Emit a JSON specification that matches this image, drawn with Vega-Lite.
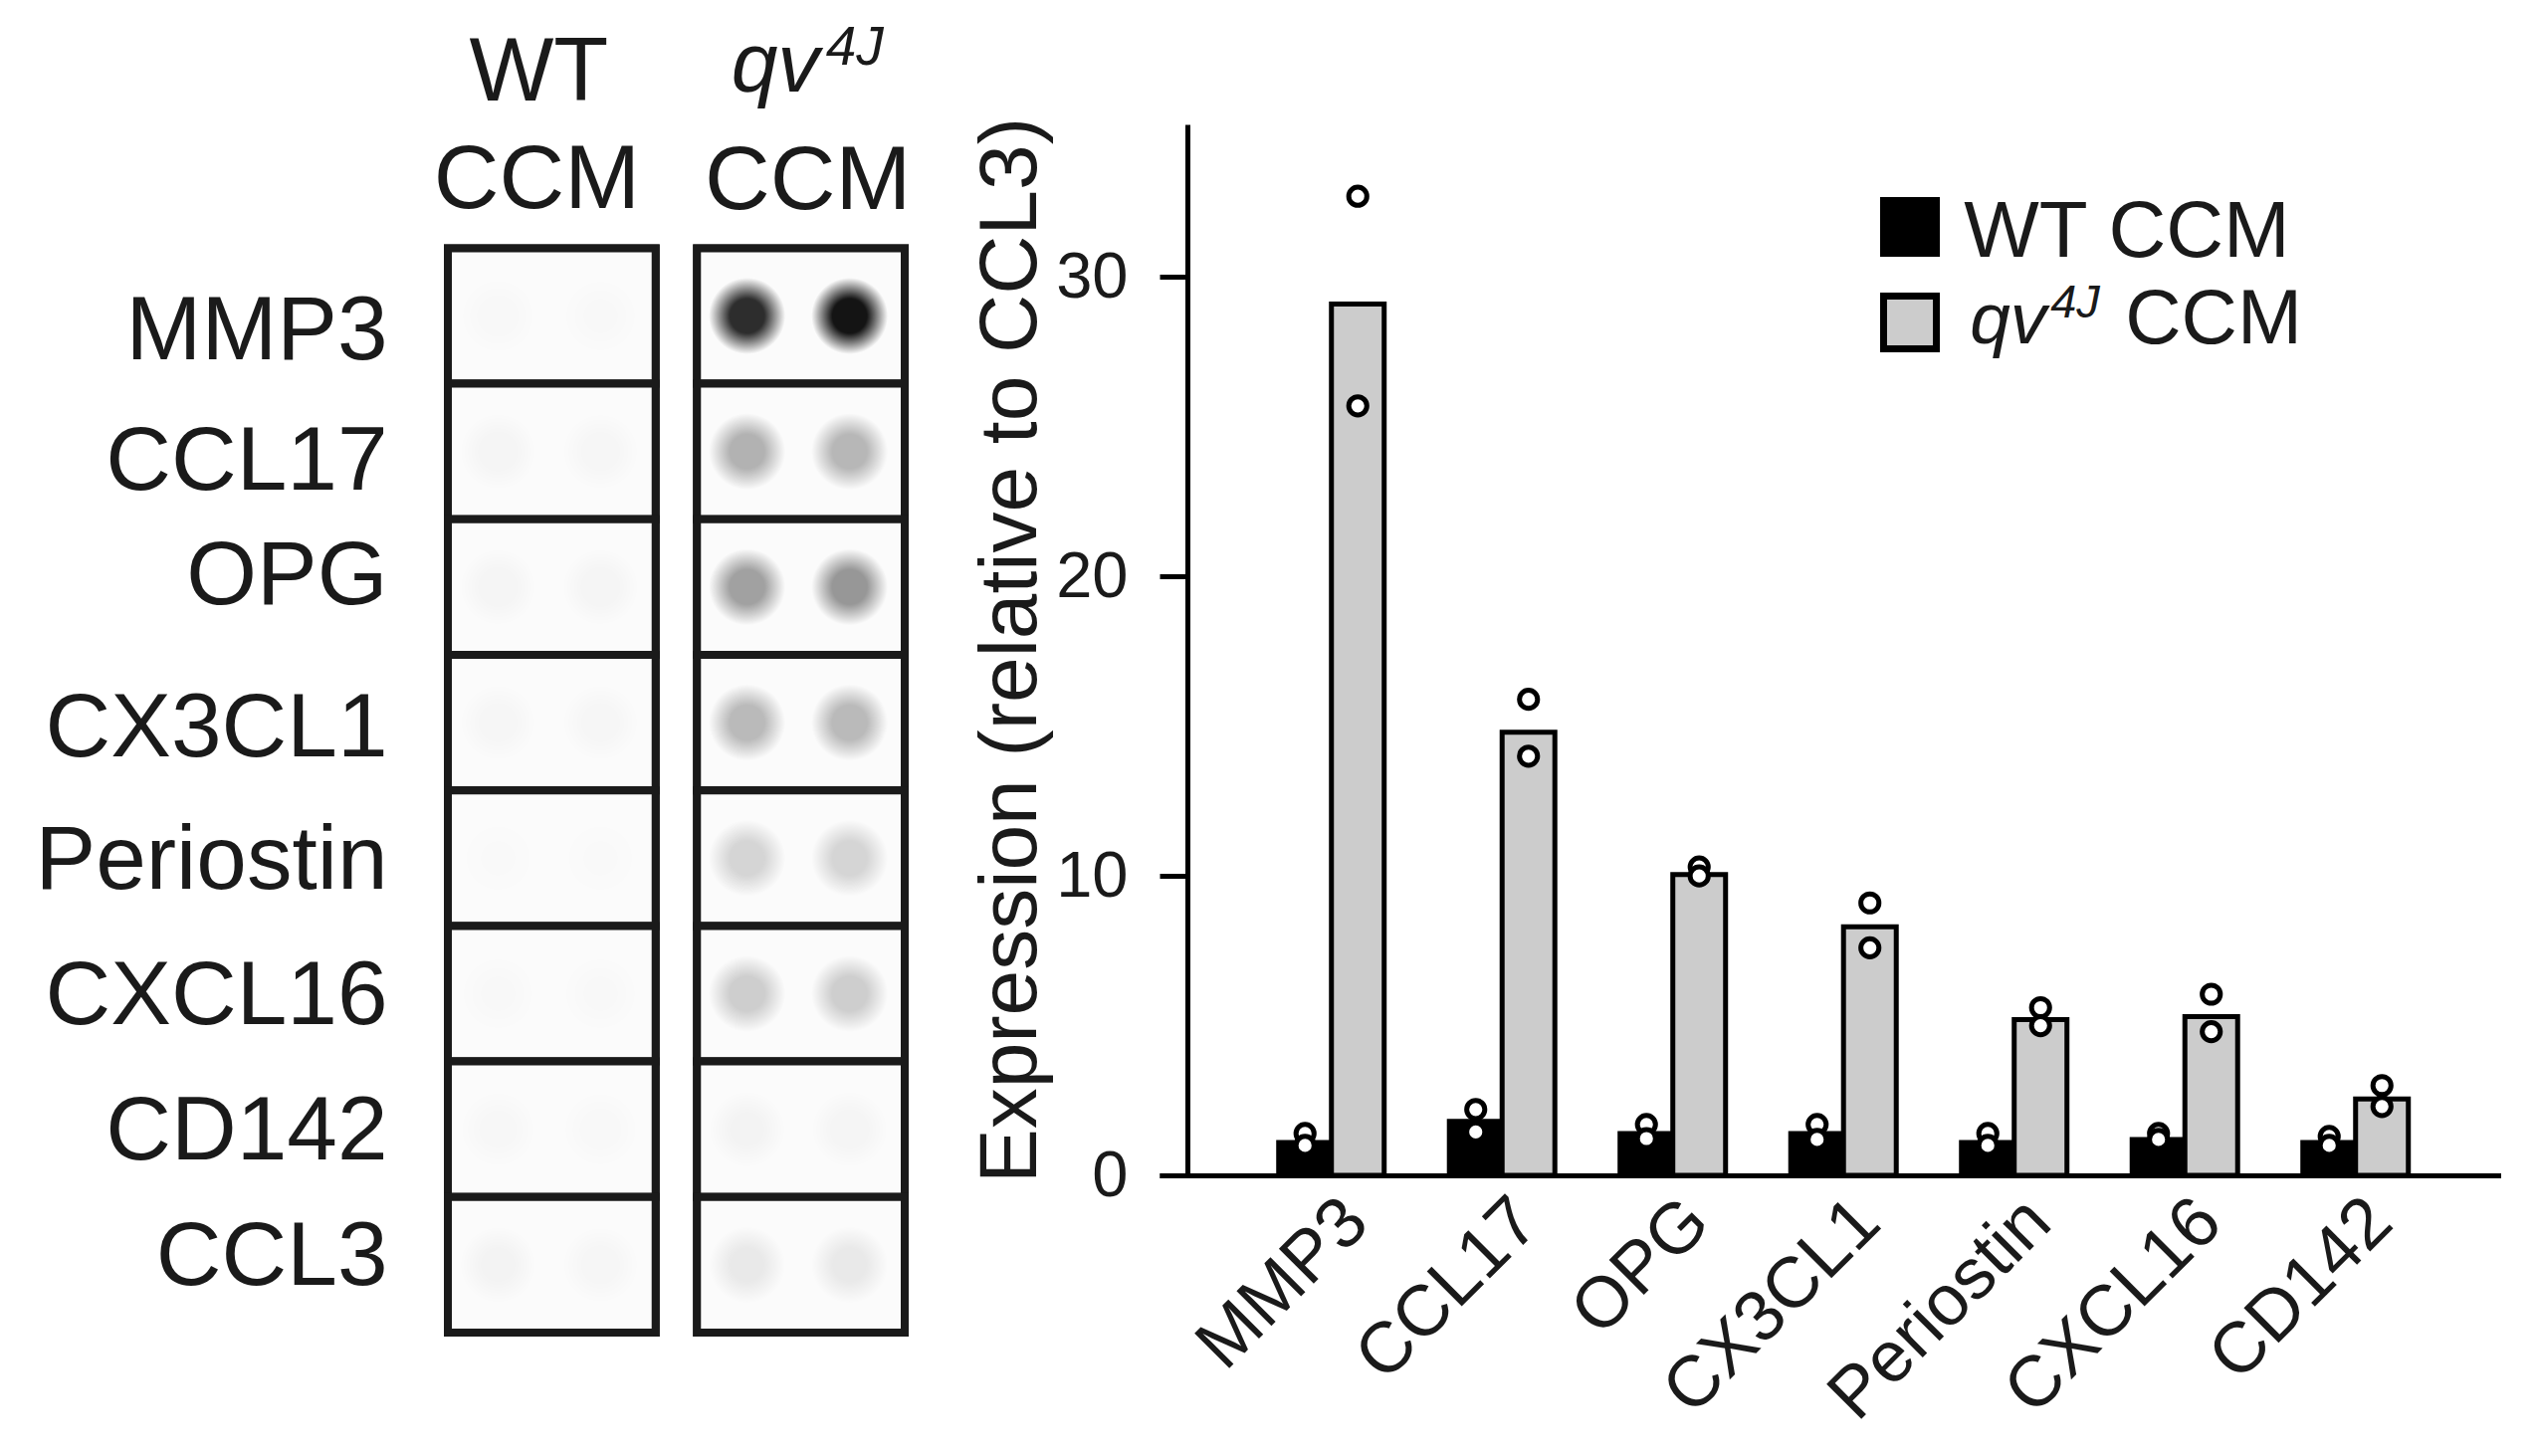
{
  "$schema": "https://vega.github.io/schema/vega-lite/v6.json",
  "description": "Dot blot and relative expression, WT CCM vs qv4J CCM",
  "background": "white",
  "padding": {"left": 34, "top": 21, "right": 0, "bottom": 0},
  "spacing": 58,
  "config": {
    "view": {"stroke": null},
    "font": "Liberation Sans",
    "text": {"font": "Liberation Sans", "color": "#1a1a1a"}
  },
  "datasets": {
    "bars": [
      {"gene": "MMP3", "sample": "WT CCM", "value": 1.1},
      {"gene": "MMP3", "sample": "qv4J CCM", "value": 29.1},
      {"gene": "CCL17", "sample": "WT CCM", "value": 1.8},
      {"gene": "CCL17", "sample": "qv4J CCM", "value": 14.8},
      {"gene": "OPG", "sample": "WT CCM", "value": 1.4},
      {"gene": "OPG", "sample": "qv4J CCM", "value": 10.05},
      {"gene": "CX3CL1", "sample": "WT CCM", "value": 1.4},
      {"gene": "CX3CL1", "sample": "qv4J CCM", "value": 8.3},
      {"gene": "Periostin", "sample": "WT CCM", "value": 1.1},
      {"gene": "Periostin", "sample": "qv4J CCM", "value": 5.2},
      {"gene": "CXCL16", "sample": "WT CCM", "value": 1.2},
      {"gene": "CXCL16", "sample": "qv4J CCM", "value": 5.3},
      {"gene": "CD142", "sample": "WT CCM", "value": 1.1},
      {"gene": "CD142", "sample": "qv4J CCM", "value": 2.55}
    ],
    "replicates": [
      {"gene": "MMP3", "sample": "WT CCM", "value": 1.4},
      {"gene": "MMP3", "sample": "WT CCM", "value": 1.0},
      {"gene": "MMP3", "sample": "qv4J CCM", "value": 32.7},
      {"gene": "MMP3", "sample": "qv4J CCM", "value": 25.7},
      {"gene": "CCL17", "sample": "WT CCM", "value": 2.2},
      {"gene": "CCL17", "sample": "WT CCM", "value": 1.45},
      {"gene": "CCL17", "sample": "qv4J CCM", "value": 15.9},
      {"gene": "CCL17", "sample": "qv4J CCM", "value": 14.0},
      {"gene": "OPG", "sample": "WT CCM", "value": 1.7},
      {"gene": "OPG", "sample": "WT CCM", "value": 1.23},
      {"gene": "OPG", "sample": "qv4J CCM", "value": 10.3},
      {"gene": "OPG", "sample": "qv4J CCM", "value": 10.0},
      {"gene": "CX3CL1", "sample": "WT CCM", "value": 1.7},
      {"gene": "CX3CL1", "sample": "WT CCM", "value": 1.2},
      {"gene": "CX3CL1", "sample": "qv4J CCM", "value": 9.1},
      {"gene": "CX3CL1", "sample": "qv4J CCM", "value": 7.6},
      {"gene": "Periostin", "sample": "WT CCM", "value": 1.4},
      {"gene": "Periostin", "sample": "WT CCM", "value": 1.0},
      {"gene": "Periostin", "sample": "qv4J CCM", "value": 5.6},
      {"gene": "Periostin", "sample": "qv4J CCM", "value": 5.0},
      {"gene": "CXCL16", "sample": "WT CCM", "value": 1.4},
      {"gene": "CXCL16", "sample": "WT CCM", "value": 1.2},
      {"gene": "CXCL16", "sample": "qv4J CCM", "value": 6.05},
      {"gene": "CXCL16", "sample": "qv4J CCM", "value": 4.8},
      {"gene": "CD142", "sample": "WT CCM", "value": 1.3},
      {"gene": "CD142", "sample": "WT CCM", "value": 1.0},
      {"gene": "CD142", "sample": "qv4J CCM", "value": 3.0},
      {"gene": "CD142", "sample": "qv4J CCM", "value": 2.3}
    ],
    "spots": [
      {"gene": "MMP3", "sample": "WT CCM", "rep": "a", "signal": 0.012},
      {"gene": "MMP3", "sample": "WT CCM", "rep": "b", "signal": 0.01},
      {"gene": "MMP3", "sample": "qv4J CCM", "rep": "a", "signal": 0.82},
      {"gene": "MMP3", "sample": "qv4J CCM", "rep": "b", "signal": 0.92},
      {"gene": "CCL17", "sample": "WT CCM", "rep": "a", "signal": 0.025},
      {"gene": "CCL17", "sample": "WT CCM", "rep": "b", "signal": 0.02},
      {"gene": "CCL17", "sample": "qv4J CCM", "rep": "a", "signal": 0.29},
      {"gene": "CCL17", "sample": "qv4J CCM", "rep": "b", "signal": 0.27},
      {"gene": "OPG", "sample": "WT CCM", "rep": "a", "signal": 0.025},
      {"gene": "OPG", "sample": "WT CCM", "rep": "b", "signal": 0.025},
      {"gene": "OPG", "sample": "qv4J CCM", "rep": "a", "signal": 0.36},
      {"gene": "OPG", "sample": "qv4J CCM", "rep": "b", "signal": 0.4},
      {"gene": "CX3CL1", "sample": "WT CCM", "rep": "a", "signal": 0.02},
      {"gene": "CX3CL1", "sample": "WT CCM", "rep": "b", "signal": 0.02},
      {"gene": "CX3CL1", "sample": "qv4J CCM", "rep": "a", "signal": 0.26},
      {"gene": "CX3CL1", "sample": "qv4J CCM", "rep": "b", "signal": 0.26},
      {"gene": "Periostin", "sample": "WT CCM", "rep": "a", "signal": 0.006},
      {"gene": "Periostin", "sample": "WT CCM", "rep": "b", "signal": 0.006},
      {"gene": "Periostin", "sample": "qv4J CCM", "rep": "a", "signal": 0.15},
      {"gene": "Periostin", "sample": "qv4J CCM", "rep": "b", "signal": 0.15},
      {"gene": "CXCL16", "sample": "WT CCM", "rep": "a", "signal": 0.01},
      {"gene": "CXCL16", "sample": "WT CCM", "rep": "b", "signal": 0.01},
      {"gene": "CXCL16", "sample": "qv4J CCM", "rep": "a", "signal": 0.18},
      {"gene": "CXCL16", "sample": "qv4J CCM", "rep": "b", "signal": 0.18},
      {"gene": "CD142", "sample": "WT CCM", "rep": "a", "signal": 0.015},
      {"gene": "CD142", "sample": "WT CCM", "rep": "b", "signal": 0.012},
      {"gene": "CD142", "sample": "qv4J CCM", "rep": "a", "signal": 0.03},
      {"gene": "CD142", "sample": "qv4J CCM", "rep": "b", "signal": 0.025},
      {"gene": "CCL3", "sample": "WT CCM", "rep": "a", "signal": 0.03},
      {"gene": "CCL3", "sample": "WT CCM", "rep": "b", "signal": 0.02},
      {"gene": "CCL3", "sample": "qv4J CCM", "rep": "a", "signal": 0.07},
      {"gene": "CCL3", "sample": "qv4J CCM", "rep": "b", "signal": 0.07}
    ]
  },
  "hconcat": [
    {
      "width": 459,
      "height": 1214,
      "encoding": {
        "x": {
          "field": "sample",
          "type": "nominal",
          "axis": null,
          "scale": {"type": "band", "domain": ["WT CCM", "qv4J CCM"], "paddingInner": 0.166, "paddingOuter": 0}
        },
        "y": {
          "field": "gene",
          "type": "nominal",
          "title": null,
          "scale": {
            "type": "band",
            "domain": ["MMP3", "CCL17", "OPG", "CX3CL1", "Periostin", "CXCL16", "CD142", "CCL3"],
            "paddingInner": 0,
            "paddingOuter": 0.4566,
            "align": 1
          },
          "axis": {
            "domain": false,
            "ticks": false,
            "labelFont": "Liberation Sans",
            "labelFontSize": 91,
            "labelColor": "#1a1a1a",
            "labelPadding": 61,
            "labelLimit": 500,
            "labelOffset": {"expr": "datum.label == 'MMP3' ? 17 : datum.label == 'CCL17' ? 11 : datum.label == 'OPG' ? -10 : datum.label == 'CX3CL1' ? 7 : datum.label == 'CCL3' ? -7 : datum.label == 'CD142' ? 3 : 4"}
          }
        }
      },
      "layer": [
        {
          "data": {"name": "spots"},
          "mark": {"type": "rect", "fill": "#fbfbfb", "stroke": "#1a1a1a", "strokeWidth": 8}
        },
        {
          "data": {"name": "spots"},
          "transform": [{"filter": "datum.rep == 'a'"}],
          "mark": {
            "type": "point",
            "filled": true,
            "size": 6000,
            "xOffset": -54,
            "fill": {
              "gradient": "radial",
              "x1": 0.5, "y1": 0.5, "r1": 0,
              "x2": 0.5, "y2": 0.5, "r2": 0.5,
              "stops": [
                {"offset": 0, "color": "#000000"},
                {"offset": 0.45, "color": "#000000"},
                {"offset": 1, "color": "#ffffff"}
              ]
            }
          },
          "encoding": {
            "opacity": {"field": "signal", "type": "quantitative", "legend": null, "scale": {"domain": [0, 1], "range": [0, 1]}}
          }
        },
        {
          "data": {"name": "spots"},
          "transform": [{"filter": "datum.rep == 'b'"}],
          "mark": {
            "type": "point",
            "filled": true,
            "size": 6000,
            "xOffset": 49,
            "fill": {
              "gradient": "radial",
              "x1": 0.5, "y1": 0.5, "r1": 0,
              "x2": 0.5, "y2": 0.5, "r2": 0.5,
              "stops": [
                {"offset": 0, "color": "#000000"},
                {"offset": 0.45, "color": "#000000"},
                {"offset": 1, "color": "#ffffff"}
              ]
            }
          },
          "encoding": {
            "opacity": {"field": "signal", "type": "quantitative", "legend": null, "scale": {"domain": [0, 1], "range": [0, 1]}}
          }
        },
        {
          "data": {"values": [{"sample": "WT CCM", "text": "WT"}]},
          "mark": {"type": "text", "fontSize": 90, "align": "center", "baseline": "alphabetic", "dx": -13, "dy": -216},
          "encoding": {"y": {"datum": "MMP3", "type": "nominal"}, "text": {"field": "text"}}
        },
        {
          "data": {"values": [{"sample": "WT CCM", "text": "CCM"}]},
          "mark": {"type": "text", "fontSize": 91, "align": "center", "baseline": "alphabetic", "dx": -15, "dy": -108},
          "encoding": {"y": {"datum": "MMP3", "type": "nominal"}, "text": {"field": "text"}}
        },
        {
          "data": {"values": [{"sample": "qv4J CCM", "text": "qv"}]},
          "mark": {"type": "text", "fontSize": 84, "fontStyle": "italic", "align": "left", "baseline": "alphabetic", "dx": -70, "dy": -225},
          "encoding": {"y": {"datum": "MMP3", "type": "nominal"}, "text": {"field": "text"}}
        },
        {
          "data": {"values": [{"sample": "qv4J CCM", "text": "4J"}]},
          "mark": {"type": "text", "fontSize": 55, "fontStyle": "italic", "align": "left", "baseline": "alphabetic", "dx": 25, "dy": -252},
          "encoding": {"y": {"datum": "MMP3", "type": "nominal"}, "text": {"field": "text"}}
        },
        {
          "data": {"values": [{"sample": "qv4J CCM", "text": "CCM"}]},
          "mark": {"type": "text", "fontSize": 91, "align": "center", "baseline": "alphabetic", "dx": 7, "dy": -107},
          "encoding": {"y": {"datum": "MMP3", "type": "nominal"}, "text": {"field": "text"}}
        }
      ]
    },
    {
      "width": 1348,
      "height": 1056,
      "encoding": {
        "x": {
          "field": "gene",
          "type": "nominal",
          "title": null,
          "scale": {
            "type": "band",
            "domain": ["MMP3", "CCL17", "OPG", "CX3CL1", "Periostin", "CXCL16", "CD142"],
            "paddingInner": 0.384,
            "paddingOuter": 0.622,
            "align": 0.562
          },
          "axis": {
            "domainWidth": 5,
            "domainColor": "#000000",
            "ticks": false,
            "labelAngle": -45,
            "labelFont": "Liberation Sans",
            "labelFontSize": 72,
            "labelColor": "#1a1a1a",
            "labelPadding": 10,
            "labelLimit": 500,
            "labelOffset": 0
          }
        },
        "y": {
          "field": "value",
          "type": "quantitative",
          "title": "Expression (relative to CCL3)",
          "scale": {"domain": [0, 35.1], "nice": false},
          "axis": {
            "values": [0, 10, 20, 30],
            "grid": false,
            "offset": -28,
            "domainWidth": 5,
            "domainColor": "#000000",
            "tickSize": 28,
            "tickWidth": 5,
            "tickColor": "#000000",
            "labelFont": "Liberation Sans",
            "labelFontSize": 65,
            "labelColor": "#1a1a1a",
            "labelPadding": 32,
            "titleFont": "Liberation Sans",
            "titleFontSize": 82,
            "titleFontWeight": "normal",
            "titleColor": "#1a1a1a",
            "titlePadding": 3
          }
        }
      },
      "layer": [
        {
          "data": {"name": "bars"},
          "transform": [{"filter": "datum.sample == 'WT CCM'"}],
          "mark": {"type": "bar", "width": 53, "xOffset": -26.5, "stroke": "#000000", "strokeWidth": 5},
          "encoding": {
            "fill": {
              "field": "sample",
              "type": "nominal",
              "scale": {"domain": ["WT CCM", "qv4J CCM"], "range": ["#000000", "#cccccc"]},
              "legend": {
                "title": null,
                "orient": "none",
                "legendX": 1439,
                "legendY": 73,
                "symbolType": "square",
                "symbolSize": 2809,
                "symbolStrokeColor": "#1a1a1a",
                "symbolStrokeWidth": 7,
                "labelFontSize": 10,
                "rowPadding": 14,
                "labelExpr": "''"
              }
            }
          }
        },
        {
          "data": {"name": "bars"},
          "transform": [{"filter": "datum.sample == 'qv4J CCM'"}],
          "mark": {"type": "bar", "width": 53, "xOffset": 26.5, "stroke": "#000000", "strokeWidth": 5},
          "encoding": {
            "fill": {
              "field": "sample",
              "type": "nominal",
              "scale": {"domain": ["WT CCM", "qv4J CCM"], "range": ["#000000", "#cccccc"]}
            }
          }
        },
        {
          "data": {"name": "replicates"},
          "transform": [{"filter": "datum.sample == 'WT CCM'"}],
          "mark": {"type": "point", "filled": true, "fill": "#ffffff", "stroke": "#000000", "strokeWidth": 5, "size": 330, "opacity": 1, "xOffset": -26.5}
        },
        {
          "data": {"name": "replicates"},
          "transform": [{"filter": "datum.sample == 'qv4J CCM'"}],
          "mark": {"type": "point", "filled": true, "fill": "#ffffff", "stroke": "#000000", "strokeWidth": 5, "size": 330, "opacity": 1, "xOffset": 26.5}
        },
        {
          "data": {"values": [{"text": "WT CCM", "gene": "CXCL16", "value": 30}]},
          "mark": {"type": "text", "fontSize": 80, "align": "left", "baseline": "alphabetic", "dx": -222, "dy": -20},
          "encoding": {"text": {"field": "text"}}
        },
        {
          "data": {"values": [{"text": "qv", "gene": "CXCL16", "value": 30}]},
          "mark": {"type": "text", "fontSize": 73, "fontStyle": "italic", "align": "left", "baseline": "alphabetic", "dx": -216, "dy": 67},
          "encoding": {"text": {"field": "text"}}
        },
        {
          "data": {"values": [{"text": "4J", "gene": "CXCL16", "value": 30}]},
          "mark": {"type": "text", "fontSize": 47, "fontStyle": "italic", "align": "left", "baseline": "alphabetic", "dx": -135, "dy": 41},
          "encoding": {"text": {"field": "text"}}
        },
        {
          "data": {"values": [{"text": "CCM", "gene": "CXCL16", "value": 30}]},
          "mark": {"type": "text", "fontSize": 78, "align": "left", "baseline": "alphabetic", "dx": -60, "dy": 67},
          "encoding": {"text": {"field": "text"}}
        }
      ]
    }
  ]
}
